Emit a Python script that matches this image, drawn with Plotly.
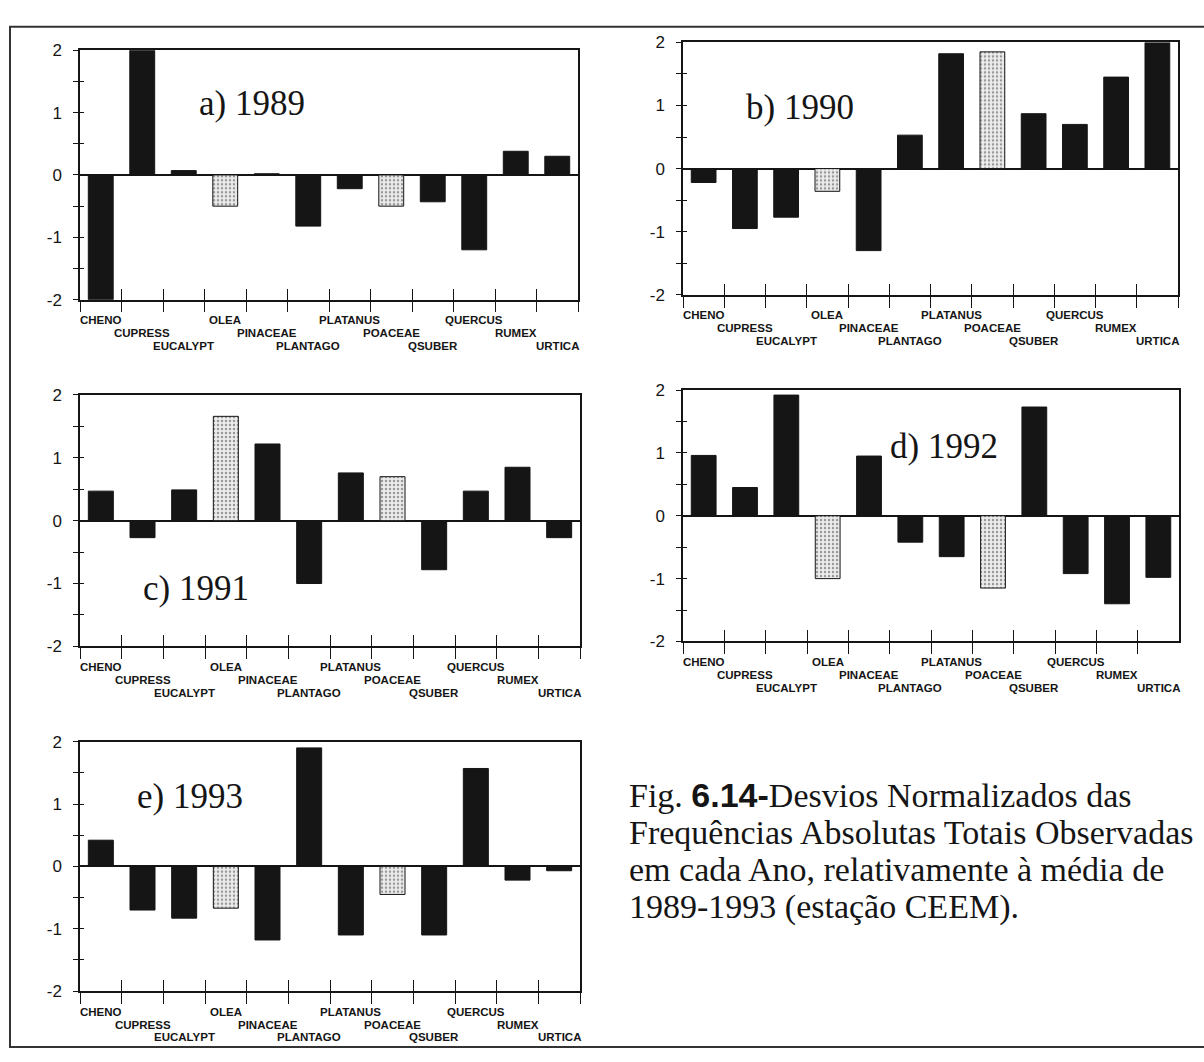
import plotly.graph_objects as go

# Pollen types (x categories) and normalised deviations per year
categories = ["CHENO", "CUPRESS", "EUCALYPT", "OLEA", "PINACEAE", "PLANTAGO",
              "PLATANUS", "POACEAE", "QSUBER", "QUERCUS", "RUMEX", "URTICA"]
dotted_types = ["OLEA", "POACEAE"]

dev_1989 = [-2.0, 2.0, 0.07, -0.5, 0.02, -0.82, -0.22, -0.5, -0.43, -1.2, 0.38, 0.3]
dev_1990 = [-0.22, -0.95, -0.77, -0.36, -1.3, 0.53, 1.82, 1.85, 0.87, 0.7, 1.45, 2.0]
dev_1991 = [0.47, -0.27, 0.49, 1.66, 1.22, -1.0, 0.76, 0.7, -0.78, 0.47, 0.85, -0.27]
dev_1992 = [0.96, 0.45, 1.92, -1.0, 0.95, -0.42, -0.65, -1.15, 1.73, -0.92, -1.4, -0.98]
dev_1993 = [0.42, -0.7, -0.83, -0.67, -1.18, 1.9, -1.1, -0.45, -1.1, 1.57, -0.22, -0.07]

panel_titles = ["a) 1989", "b) 1990", "c) 1991", "d) 1992", "e) 1993"]
panel_values = [dev_1989, dev_1990, dev_1991, dev_1992, dev_1993]

y_tick_vals = [-2, -1.5, -1, -0.5, 0, 0.5, 1, 1.5, 2]
y_tick_text = ["-2", "", "-1", "", "0", "", "1", "", "2"]

caption_lines = [
    "Fig. <b><span style=\"font-family:'Liberation Sans', Arial\">6.14-</span></b>"
    "Desvios Normalizados das",
    "Frequências Absolutas Totais Observadas",
    "em cada Ano, relativamente à média de",
    "1989-1993 (estação CEEM).",
]

W, H = 1204, 1062

# plot boxes in pixels: left, right, top, bottom
boxes = [
    (80, 578, 42, 296),
    (683, 1178, 34, 291),
    (80, 580, 393, 649),
    (683, 1179, 388, 644),
    (80, 580, 746, 1000),
]
# centre of each panel title in pixels
title_pos = [(252, 96), (800, 100), (196, 590), (944, 445), (190, 802)]

INK = "#151515"
fig = go.Figure()
layout = {}
annotations = []

n = len(categories)
for i, (vals, title, box) in enumerate(zip(panel_values, panel_titles, boxes)):
    k = i + 1
    ko = i + 6  # overlay axes that carry the inward half of the ticks
    left, right, top, bottom = box
    xdom = [left / W, right / W]
    ydom = [1 - bottom / H, 1 - top / H]

    colors = ["#ececec" if c in dotted_types else INK for c in categories]
    shapes = ["." if c in dotted_types else "" for c in categories]
    fig.add_trace(go.Bar(
        x=categories, y=vals, width=0.6,
        marker=dict(color=colors, line=dict(color=INK, width=1),
                    pattern=dict(shape=shapes, fgcolor="#333333", size=4,
                                 solidity=0.3, fillmode="overlay")),
        xaxis=f"x{k}", yaxis=f"y{k}", showlegend=False, hoverinfo="x+y",
    ))
    # empty trace so the overlay axes get drawn
    fig.add_trace(go.Scatter(
        x=[None], y=[None], mode="markers", xaxis=f"x{ko}", yaxis=f"y{ko}",
        showlegend=False, hoverinfo="skip",
    ))

    layout[f"xaxis{k}"] = dict(
        domain=xdom, anchor=f"y{k}", type="category",
        categoryorder="array", categoryarray=categories,
        range=[-0.5, n - 0.5], showticklabels=False,
        ticks="outside", ticklen=11, tickwidth=1, tickcolor=INK,
        tickson="boundaries", showline=True, linecolor=INK, linewidth=1.5,
        mirror=True, showgrid=False, zeroline=False, fixedrange=True,
    )
    layout[f"yaxis{k}"] = dict(
        domain=ydom, anchor=f"x{k}", range=[-2, 2],
        tickmode="array", tickvals=y_tick_vals, ticktext=y_tick_text,
        ticks="outside", ticklen=5, tickwidth=1, tickcolor=INK,
        ticklabelstandoff=8,
        tickfont=dict(family="Liberation Sans, Arial", size=17, color=INK),
        showline=True, linecolor=INK, linewidth=1.5, mirror=True,
        showgrid=False, zeroline=True, zerolinecolor=INK, zerolinewidth=1.5,
        fixedrange=True,
    )
    layout[f"xaxis{ko}"] = dict(
        overlaying=f"x{k}", anchor=f"y{ko}", range=[-0.5, n - 0.5],
        tickmode="array", tickvals=[j - 0.5 for j in range(n + 1)],
        ticks="inside", ticklen=11, tickwidth=1, tickcolor=INK,
        showticklabels=False, showline=False, showgrid=False, zeroline=False,
        fixedrange=True,
    )
    layout[f"yaxis{ko}"] = dict(
        overlaying=f"y{k}", anchor=f"x{ko}", range=[-2, 2],
        tickmode="array", tickvals=y_tick_vals,
        ticks="inside", ticklen=4, tickwidth=1, tickcolor=INK,
        showticklabels=False, showline=False, showgrid=False, zeroline=False,
        fixedrange=True,
    )

    # staggered category labels, three rows below the axis
    for j, cat in enumerate(categories):
        row = j % 3
        ypx = bottom + 21 + 13 * row
        annotations.append(dict(
            x=cat, xref=f"x{k}", y=1 - ypx / H, yref="paper",
            text=f"<b>{cat}</b>", showarrow=False, xanchor="center",
            yanchor="middle",
            font=dict(family="Liberation Sans, Arial", size=11.5, color=INK),
        ))

    tx, ty = title_pos[i]
    annotations.append(dict(
        x=tx / W, y=1 - ty / H, xref="paper", yref="paper", text=title,
        showarrow=False, xanchor="center", yanchor="middle",
        font=dict(family="Liberation Serif, Times New Roman", size=35, color=INK),
    ))

# caption, one annotation per line
caption_y = [800, 838, 876, 914]
for line, ypx in zip(caption_lines, caption_y):
    annotations.append(dict(
        x=627 / W, y=1 - ypx / H, xref="paper", yref="paper", text=line,
        showarrow=False, xanchor="left", yanchor="middle", align="left",
        font=dict(family="Liberation Serif, Times New Roman", size=34, color=INK),
    ))

fig.update_layout(
    width=W, height=H, margin=dict(l=0, r=0, t=0, b=0),
    paper_bgcolor="white", plot_bgcolor="white",
    annotations=annotations, bargap=0.4,
    shapes=[dict(type="rect", xref="paper", yref="paper",
                 x0=10 / W, x1=1.01, y0=1 - 1057 / H, y1=1 - 18 / H,
                 line=dict(color="#333333", width=2))],
    **layout,
)

fig.write_html("out.html")
